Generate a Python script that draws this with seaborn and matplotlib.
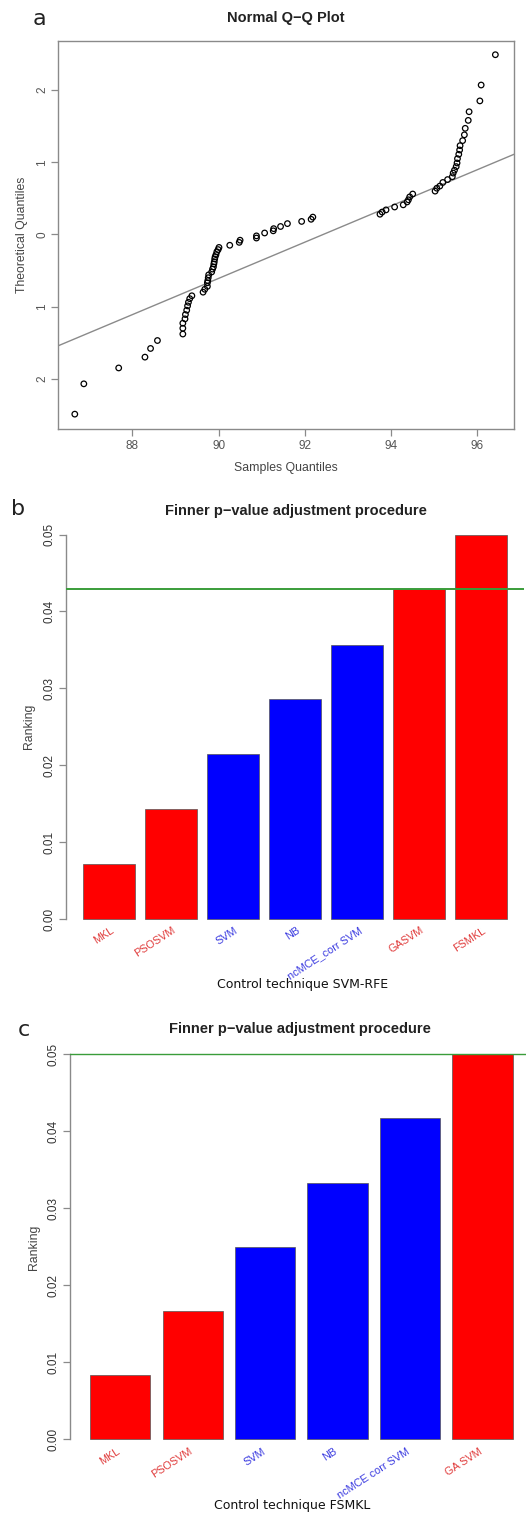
import numpy as np
import pandas as pd
import matplotlib
matplotlib.use("Agg")
import matplotlib.pyplot as plt
import seaborn as sns

# ---------------- data ----------------
# Panel a: Normal Q-Q plot (sample quantiles on x, theoretical on y)
sample_q = [86.66, 86.87, 87.68, 88.29, 88.42, 88.58, 89.17, 89.17, 89.17, 89.22,
            89.23, 89.26, 89.28, 89.30, 89.33, 89.38, 89.64, 89.68, 89.74, 89.74,
            89.75, 89.76, 89.77, 89.84, 89.86, 89.88, 89.89, 89.90, 89.91, 89.92,
            89.94, 89.96, 89.99, 90.01, 90.26, 90.48, 90.50, 90.88, 90.88, 91.07,
            91.27, 91.28, 91.44, 91.60, 91.93, 92.15, 92.19, 93.75, 93.80, 93.89,
            94.09, 94.29, 94.38, 94.41, 94.44, 94.51, 95.03, 95.07, 95.14, 95.21,
            95.32, 95.43, 95.45, 95.48, 95.52, 95.54, 95.55, 95.58, 95.60, 95.61,
            95.67, 95.71, 95.73, 95.80, 95.82, 96.07, 96.10, 96.43]
theor_q = [-2.49, -2.07, -1.85, -1.70, -1.58, -1.47, -1.38, -1.30, -1.23, -1.17,
           -1.11, -1.05, -0.99, -0.94, -0.89, -0.85, -0.80, -0.76, -0.72, -0.67,
           -0.64, -0.60, -0.56, -0.52, -0.48, -0.45, -0.41, -0.38, -0.34, -0.31,
           -0.28, -0.24, -0.21, -0.18, -0.15, -0.11, -0.08, -0.05, -0.02, 0.02,
           0.05, 0.08, 0.11, 0.15, 0.18, 0.21, 0.24, 0.28, 0.31, 0.34,
           0.38, 0.41, 0.45, 0.48, 0.52, 0.56, 0.60, 0.64, 0.67, 0.72,
           0.76, 0.80, 0.85, 0.89, 0.94, 0.99, 1.05, 1.11, 1.17, 1.23,
           1.30, 1.38, 1.47, 1.58, 1.70, 1.85, 2.07, 2.49]
qq_xticks = [88, 90, 92, 94, 96]
qq_yticks = [-2, -1, 0, 1, 2]
qq_yticklabels = ["2", "1", "0", "1", "2"]

# Panel b
b_methods = ["MKL", "PSOSVM", "SVM", "NB", "ncMCE_corr SVM", "GASVM", "FSMKL"]
b_values = [0.0071, 0.0143, 0.0214, 0.0286, 0.0357, 0.0429, 0.0500]
b_groups = ["r", "r", "b", "b", "b", "r", "r"]
b_threshold = 0.0429
b_xlabel = "Control technique SVM-RFE"

# Panel c
c_methods = ["MKL", "PSOSVM", "SVM", "NB", "ncMCE corr SVM", "GA SVM"]
c_values = [0.0083, 0.0167, 0.0250, 0.0333, 0.0417, 0.0500]
c_groups = ["r", "r", "b", "b", "b", "r"]
c_threshold = 0.0500
c_xlabel = "Control technique FSMKL"

bar_yticks = [0.00, 0.01, 0.02, 0.03, 0.04, 0.05]
title_bar = "Finner p\u2212value adjustment procedure"
title_qq = "Normal Q\u2212Q Plot"

# ---------------- style ----------------
W, H = 526, 1513
R_FONT = ["Liberation Sans", "DejaVu Sans"]
plt.rcParams["font.family"] = R_FONT
BAR_COL = {"r": "#ff0000", "b": "#0000ff"}
LAB_COL = {"r": "#e03a3a", "b": "#3a3ae0"}
GRAY = "#8a8a8a"
TXT = "#333333"

fig = plt.figure(figsize=(W / 100, H / 100), dpi=100)


def rect(l, t, r, b):
    return [l / W, 1 - b / H, (r - l) / W, (b - t) / H]


# ---------------- panel a ----------------
ax = fig.add_axes(rect(58, 41, 514.3, 429.3))
sns.scatterplot(x=sample_q, y=theor_q, ax=ax, marker="o", s=16,
                facecolor="none", edgecolor="black", linewidth=0.9, zorder=3)
xs = np.array(sample_q)
q1, q3 = np.quantile(xs, [0.25, 0.75])
tq1, tq3 = -0.674, 0.674
slope = (tq3 - tq1) / (q3 - q1)
lx = np.array([80.0, 100.0])
ly = tq1 + slope * (lx - q1)
sns.lineplot(x=lx, y=ly, ax=ax, color=GRAY, linewidth=1.0, zorder=2)
ax.set_xlim(86.27, 96.87)
ax.set_ylim(-2.70, 2.68)
ax.set_xticks(qq_xticks)
ax.set_yticks(qq_yticks)
ax.set_yticklabels(qq_yticklabels, rotation=90, va="center")
for s in ax.spines.values():
    s.set_color(GRAY)
    s.set_linewidth(1.0)
ax.tick_params(axis="both", colors=GRAY, labelcolor="#555555", labelsize=8.5,
               length=5, width=0.9, direction="out", pad=3)
ax.tick_params(axis="y", pad=2)
ax.set_xlabel("Samples Quantiles", fontsize=8.8, color="#444444", labelpad=7)
ax.set_ylabel("Theoretical Quantiles", fontsize=8.8, color="#444444", labelpad=6)
fig.text(286 / W, 1 - 18 / H, title_qq, ha="center", va="center",
         fontsize=10.5, fontweight="bold", color="#222222")
fig.text(39 / W, 1 - 19 / H, "a", ha="center", va="center", fontsize=16,
         family="DejaVu Sans", color="#222222")


# ---------------- bar panels ----------------
def bar_panel(box, methods, values, groups, thr, lab_dy, lab_dx,
              thr_lw, ylab_pad):
    ax = fig.add_axes(rect(*box))
    df = pd.DataFrame({"method": methods, "value": values, "grp": groups})
    pal = {m: BAR_COL[g] for m, g in zip(methods, groups)}
    sns.barplot(data=df, x="method", y="value", hue="method", palette=pal,
                order=methods, hue_order=methods, width=1 / 1.2, saturation=1,
                edgecolor="#555555", linewidth=0.5, legend=False, ax=ax,
                zorder=2)
    n = len(methods)
    ax.set_xlim(-0.69, n - 1 + 0.69)
    ax.set_ylim(-0.002, 0.052)
    ax.axhline(thr, color="#3a9d3a", linewidth=thr_lw, zorder=3)
    for s in ["top", "right", "bottom"]:
        ax.spines[s].set_visible(False)
    ax.spines["left"].set_bounds(0, 0.05)
    ax.spines["left"].set_color(GRAY)
    ax.spines["left"].set_linewidth(1.0)
    ax.set_yticks(bar_yticks)
    ax.set_yticklabels([f"{v:.2f}" for v in bar_yticks], rotation=90,
                       va="center")
    ax.tick_params(axis="y", colors=GRAY, labelcolor=TXT, labelsize=8.5,
                   length=5, width=0.9, pad=2.5)
    ax.set_xticks([])
    ax.set_xlabel("")
    ax.set_ylabel("Ranking", fontsize=8.8, color="#444444", labelpad=ylab_pad)
    for i, (m, g) in enumerate(zip(methods, groups)):
        ax.text(i + lab_dx, lab_dy, m, rotation=33, rotation_mode="anchor",
                ha="right", va="top", fontsize=7.8, color=LAB_COL[g],
                clip_on=False)
    return ax


bar_panel((66, 519.2, 524, 934.4), b_methods, b_values, b_groups,
          b_threshold, -0.0008, 0.02, 1.4, 6)
fig.text(303 / W, 1 - 985 / H, b_xlabel, ha="center", va="center",
         fontsize=9, family="DejaVu Sans", color="#111111")
fig.text(296 / W, 1 - 511 / H, title_bar, ha="center", va="center",
         fontsize=10.5, fontweight="bold", color="#222222")
fig.text(18 / W, 1 - 509 / H, "b", ha="center", va="center", fontsize=16,
         family="DejaVu Sans", color="#222222")

bar_panel((70.3, 1039.0, 532.3, 1454.7), c_methods, c_values, c_groups,
          c_threshold, -0.0009, -0.05, 1.0, 6)
fig.text(292 / W, 1 - 1505 / H, c_xlabel, ha="center", va="center",
         fontsize=9, family="DejaVu Sans", color="#111111")
fig.text(300 / W, 1 - 1029 / H, title_bar, ha="center", va="center",
         fontsize=10.5, fontweight="bold", color="#222222")
fig.text(24 / W, 1 - 1030 / H, "c", ha="center", va="center", fontsize=16,
         family="DejaVu Sans", color="#222222")

fig.savefig("out.png", dpi=100, facecolor="white")
